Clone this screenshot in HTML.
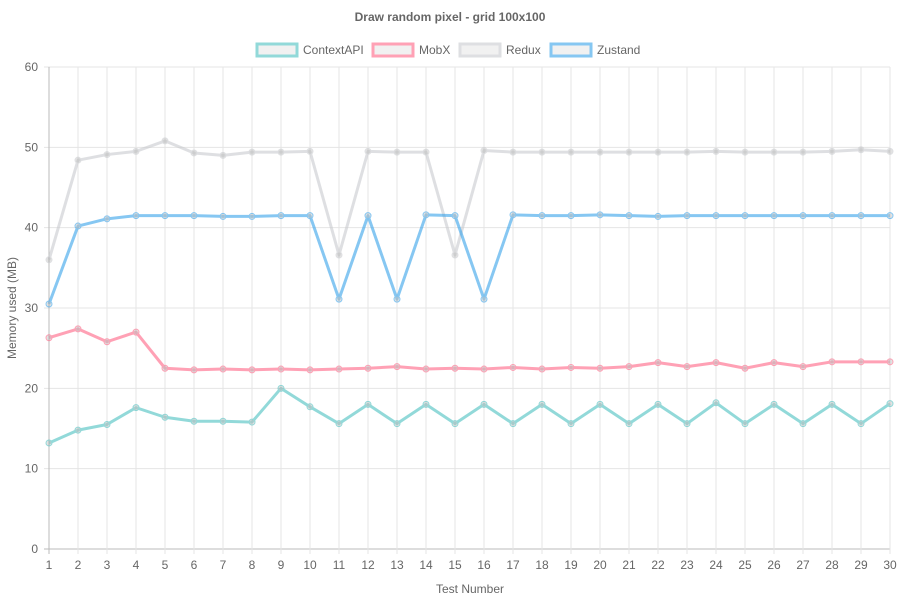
<!DOCTYPE html>
<html><head><meta charset="utf-8"><style>
body{margin:0;background:#fff;font-family:"Liberation Sans",Arial,sans-serif;}
svg text{font-family:"Liberation Sans",Arial,sans-serif;}
</style></head><body>
<svg id="chart" width="900" height="600" xmlns="http://www.w3.org/2000/svg">
<text x="450" y="21" text-anchor="middle" font-size="12" font-weight="bold" fill="#666">Draw random pixel - grid 100x100</text>
<g id="grid"></g><g id="series"></g><g id="legend"></g>
<text transform="translate(16,308) rotate(-90)" text-anchor="middle" font-size="12" fill="#666">Memory used (MB)</text>
<text x="470" y="593" text-anchor="middle" font-size="12" fill="#666">Test Number</text>
</svg>
<script>
const categories=[1,2,3,4,5,6,7,8,9,10,11,12,13,14,15,16,17,18,19,20,21,22,23,24,25,26,27,28,29,30];
const yTicks=[0,10,20,30,40,50,60];
const contextApi=[13.2,14.8,15.5,17.6,16.4,15.9,15.9,15.8,20.0,17.7,15.6,18.0,15.6,18.0,15.6,18.0,15.6,18.0,15.6,18.0,15.6,18.0,15.6,18.2,15.6,18.0,15.6,18.0,15.6,18.1];
const mobx=[26.3,27.4,25.8,27.0,22.5,22.3,22.4,22.3,22.4,22.3,22.4,22.5,22.7,22.4,22.5,22.4,22.6,22.4,22.6,22.5,22.7,23.2,22.7,23.2,22.5,23.2,22.7,23.3,23.3,23.3];
const redux=[36.0,48.4,49.1,49.5,50.8,49.3,49.0,49.4,49.4,49.5,36.6,49.5,49.4,49.4,36.6,49.6,49.4,49.4,49.4,49.4,49.4,49.4,49.4,49.5,49.4,49.4,49.4,49.5,49.7,49.5];
const zustand=[30.5,40.2,41.1,41.5,41.5,41.5,41.4,41.4,41.5,41.5,31.1,41.5,31.1,41.6,41.5,31.1,41.6,41.5,41.5,41.6,41.5,41.4,41.5,41.5,41.5,41.5,41.5,41.5,41.5,41.5];
const seriesNames=["ContextAPI","MobX","Redux","Zustand"];
const NS="http://www.w3.org/2000/svg";
const L=49,R=890,T=67,B=549;
const x=i=>L+(R-L)*(i-1)/(categories.length-1);
const y=v=>B-(B-T)*v/60;
function mk(tag,attrs,parent){const e=document.createElementNS(NS,tag);for(const k in attrs)e.setAttribute(k,attrs[k]);parent.appendChild(e);return e;}
const grid=document.getElementById('grid');
yTicks.forEach(t=>{
 const l=mk('line',{x1:44,x2:R,y1:y(t),y2:y(t),stroke:t===0?'#bbb':'#e5e5e5','stroke-width':1},grid);
 
 
 const tx=mk('text',{x:38,y:y(t)+4,'text-anchor':'end','font-size':12,fill:'#666'},grid);tx.textContent=t;
 
 
});
categories.forEach(c=>{
 const l=mk('line',{x1:x(c),x2:x(c),y1:T,y2:B+5,stroke:c===1?'#bbb':'#e5e5e5','stroke-width':1},grid);
 
 
 const tx=mk('text',{x:x(c),y:B+20,'text-anchor':'middle','font-size':12,fill:'#666'},grid);tx.textContent=c;
 
 
});
const colors=["rgb(75,192,192)","rgb(255,99,132)","rgb(201,203,207)","rgb(54,162,235)"];
const data=[contextApi,mobx,redux,zustand];
const sg=document.getElementById('series');
[2,3,1,0].forEach(si=>{
 const vals=data[si];
 const g=mk('g',{opacity:0.6},sg);
 
 
 const p=mk('polyline',{points:vals.map((v,i)=>x(categories[i])+','+y(v)).join(' '),fill:'none',stroke:colors[si],'stroke-width':3,'stroke-linejoin':'round'},g);
 
 
 vals.forEach((v,i)=>{
  const c=mk('circle',{cx:x(categories[i]),cy:y(v),r:3,fill:'rgba(160,160,160,0.5)',stroke:colors[si],'stroke-width':1},g);
  
  
 });
});
const lg=document.getElementById('legend');
const lx=[257,373,460,551];
seriesNames.forEach((n,i)=>{
 const g=mk('g',{},lg);
 
 
 mk('rect',{x:lx[i],y:44,width:40,height:12,fill:'#e8e8e8',stroke:colors[i],'stroke-width':3,opacity:0.6},g);
 const t=mk('text',{x:lx[i]+46,y:54,'font-size':12,fill:'#666'},g);t.textContent=n;
});
</script>
</body></html>
